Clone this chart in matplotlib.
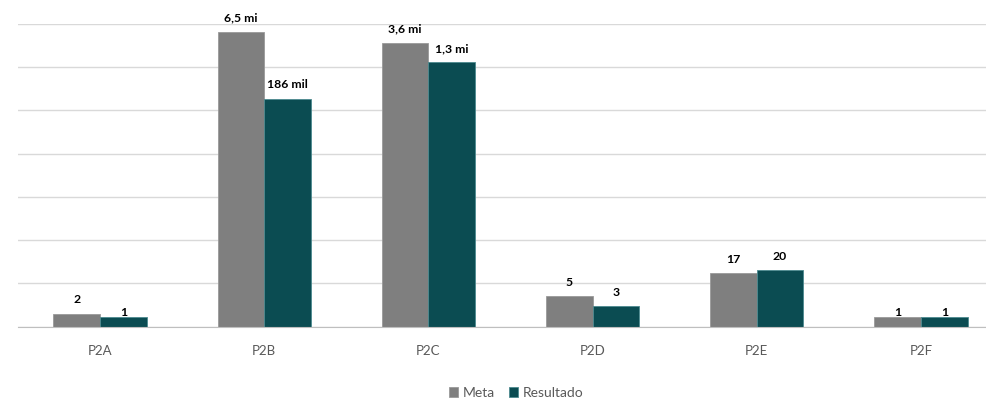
import numpy as np
import matplotlib.pyplot as plt

# data (log-scaled column chart)
categories = ['P2A', 'P2B', 'P2C', 'P2D', 'P2E', 'P2F']
meta = [2, 6.5e6, 3.6e6, 5, 17, 1]
resultado = [1, 186e3, 1.3e6, 3, 20, 1]
meta_labels = ['2', '6,5 mi', '3,6 mi', '5', '17', '1']
resultado_labels = ['1', '186 mil', '1,3 mi', '3', '20', '1']

plt.rcParams['font.family'] = ['Lato', 'DejaVu Sans']

fig = plt.figure(figsize=(9.87, 4.0), dpi=100)
ax = fig.add_axes([18 / 987, 1 - 326.7 / 400, 985 / 987, (326.7 - 24) / 400])

x = np.arange(len(categories))
w = 0.284
min_h = 0.22  # smallest visible bar (value 1 sits on the axis floor)

meta_log = np.log10(meta)
res_log = np.log10(resultado)

ax.bar(x - w / 2, np.maximum(meta_log, min_h), w, color='#7f7f7f',
       edgecolor='#9a9a9a', linewidth=0.6, label='Meta', zorder=3)
ax.bar(x + w / 2, np.maximum(res_log, min_h), w, color='#0b4c52',
       edgecolor='#4d8a8f', linewidth=0.6, label='Resultado', zorder=3)

for i in range(len(categories)):
    ax.annotate(meta_labels[i], (x[i] - w / 2, meta_log[i]), xytext=(0, 10),
                textcoords='offset points', ha='center', va='center',
                fontsize=8.8, fontweight='bold', color='#000000')
    ax.annotate(resultado_labels[i], (x[i] + w / 2, res_log[i]), xytext=(0, 10),
                textcoords='offset points', ha='center', va='center',
                fontsize=8.8, fontweight='bold', color='#000000')

ax.set_xlim(-0.5, len(categories) - 0.5)
ax.set_ylim(0, 7)
ax.set_yticks(np.arange(0, 8))
ax.yaxis.grid(True, color='#d9d9d9', linewidth=1, zorder=0)
ax.set_yticklabels([])
ax.tick_params(axis='y', length=0)
ax.set_xticks(x)
ax.set_xticklabels(categories, fontsize=9.5, color='#595959')
ax.tick_params(axis='x', length=0, pad=13)

for s in ['top', 'right', 'left']:
    ax.spines[s].set_visible(False)
ax.spines['bottom'].set_color('#bfbfbf')
ax.spines['bottom'].set_zorder(4)

fig.legend(loc='center', bbox_to_anchor=(516 / 987, 1 - 393 / 400), ncol=2,
           frameon=False, fontsize=10, handlelength=0.7, handleheight=0.7,
           handletextpad=0.3, columnspacing=1.0, labelcolor='#595959')

fig.savefig('out.png', dpi=100)
